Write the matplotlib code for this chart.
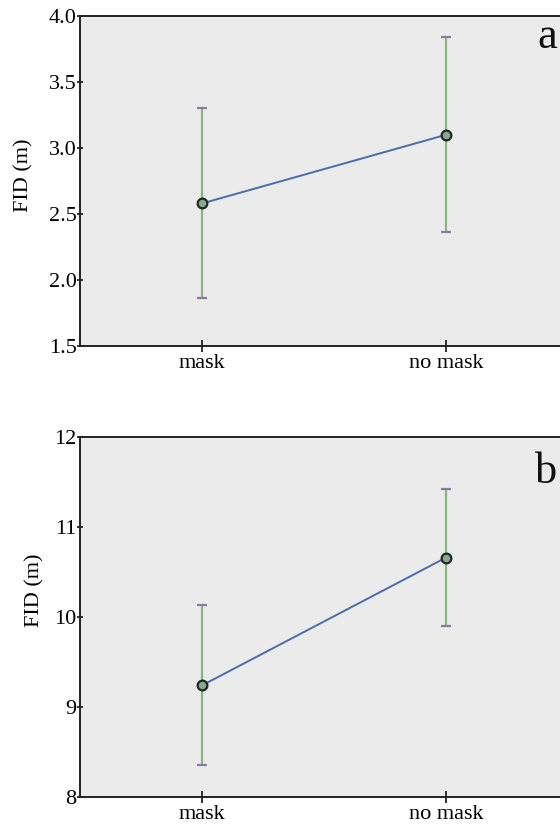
import matplotlib
matplotlib.use("Agg")
import matplotlib.pyplot as plt
import numpy as np

categories = ["mask", "no mask"]

# Panel a
a_means = [2.58, 3.10]
a_upper = [3.30, 3.84]
a_lower = [1.86, 2.36]
a_yticks = [1.5, 2.0, 2.5, 3.0, 3.5, 4.0]
a_yticklabels = ["1.5", "2.0", "2.5", "3.0", "3.5", "4.0"]

# Panel b
b_means = [9.24, 10.66]
b_upper = [10.13, 11.42]
b_lower = [8.36, 9.90]
b_yticks = [8, 9, 10, 11, 12]
b_yticklabels = ["8", "9", "10", "11", "12"]

plt.rcParams['font.family'] = ['Liberation Serif', 'DejaVu Serif']

fig = plt.figure(figsize=(5.6, 8.25), dpi=100)
W, H = 560, 825

def make_ax(top_px, bottom_px):
    left = 80 / W
    width = 488 / W
    bottom = 1 - bottom_px / H
    height = (bottom_px - top_px) / H
    return fig.add_axes([left, bottom, width, height])

def draw(ax, means, upper, lower, yticks, yticklabels, ylim, letter, lpos, ylab_xy):
    x = np.arange(len(categories))
    means = np.array(means); upper = np.array(upper); lower = np.array(lower)
    ax.set_facecolor("#ebebeb")
    ax.plot(x, means, color="#4a6db0", lw=1.4, zorder=3)
    ax.vlines(x, lower, upper, color="#88b680", lw=1.6, zorder=2)
    ax.hlines(np.concatenate([upper, lower]),
              np.concatenate([x, x]) - 0.022, np.concatenate([x, x]) + 0.022,
              color="#8a7aa8", lw=1.6, zorder=2)
    ax.plot(x, means, ls="none", marker="o", ms=7, mfc="#8aa890",
            mec="#1f2a22", mew=1.6, zorder=4)
    ax.set_xlim(-0.5, 1.5)
    ax.set_ylim(*ylim)
    ax.set_yticks(yticks)
    ax.set_yticklabels(yticklabels, fontsize=16)
    ax.set_xticks(x)
    ax.set_xticklabels(categories, fontsize=16)
    ax.tick_params(axis="y", direction="inout", length=5, width=1.3, pad=0, color="#222222")
    ax.tick_params(axis="x", direction="inout", length=9, width=1.3, pad=1, color="#222222")
    ax.set_ylabel("FID (m)", fontsize=16)
    ax.yaxis.set_label_coords(*ylab_xy)
    for s in ["left", "bottom", "top", "right"]:
        ax.spines[s].set_linewidth(1.4)
        ax.spines[s].set_color("#222222")
    ax.text(lpos[0], lpos[1], letter, transform=ax.transAxes, fontsize=32,
            ha="left", va="baseline", color="#111111")

ax1 = make_ax(16, 346)
draw(ax1, a_means, a_upper, a_lower, a_yticks, a_yticklabels, (1.5, 4.0), "a",
     (0.938, 0.903), (-0.096, 0.518))

ax2 = make_ax(437, 797)
draw(ax2, b_means, b_upper, b_lower, b_yticks, b_yticklabels, (8, 12), "b",
     (0.932, 0.872), (-0.072, 0.575))

fig.savefig("out.png", dpi=100)
